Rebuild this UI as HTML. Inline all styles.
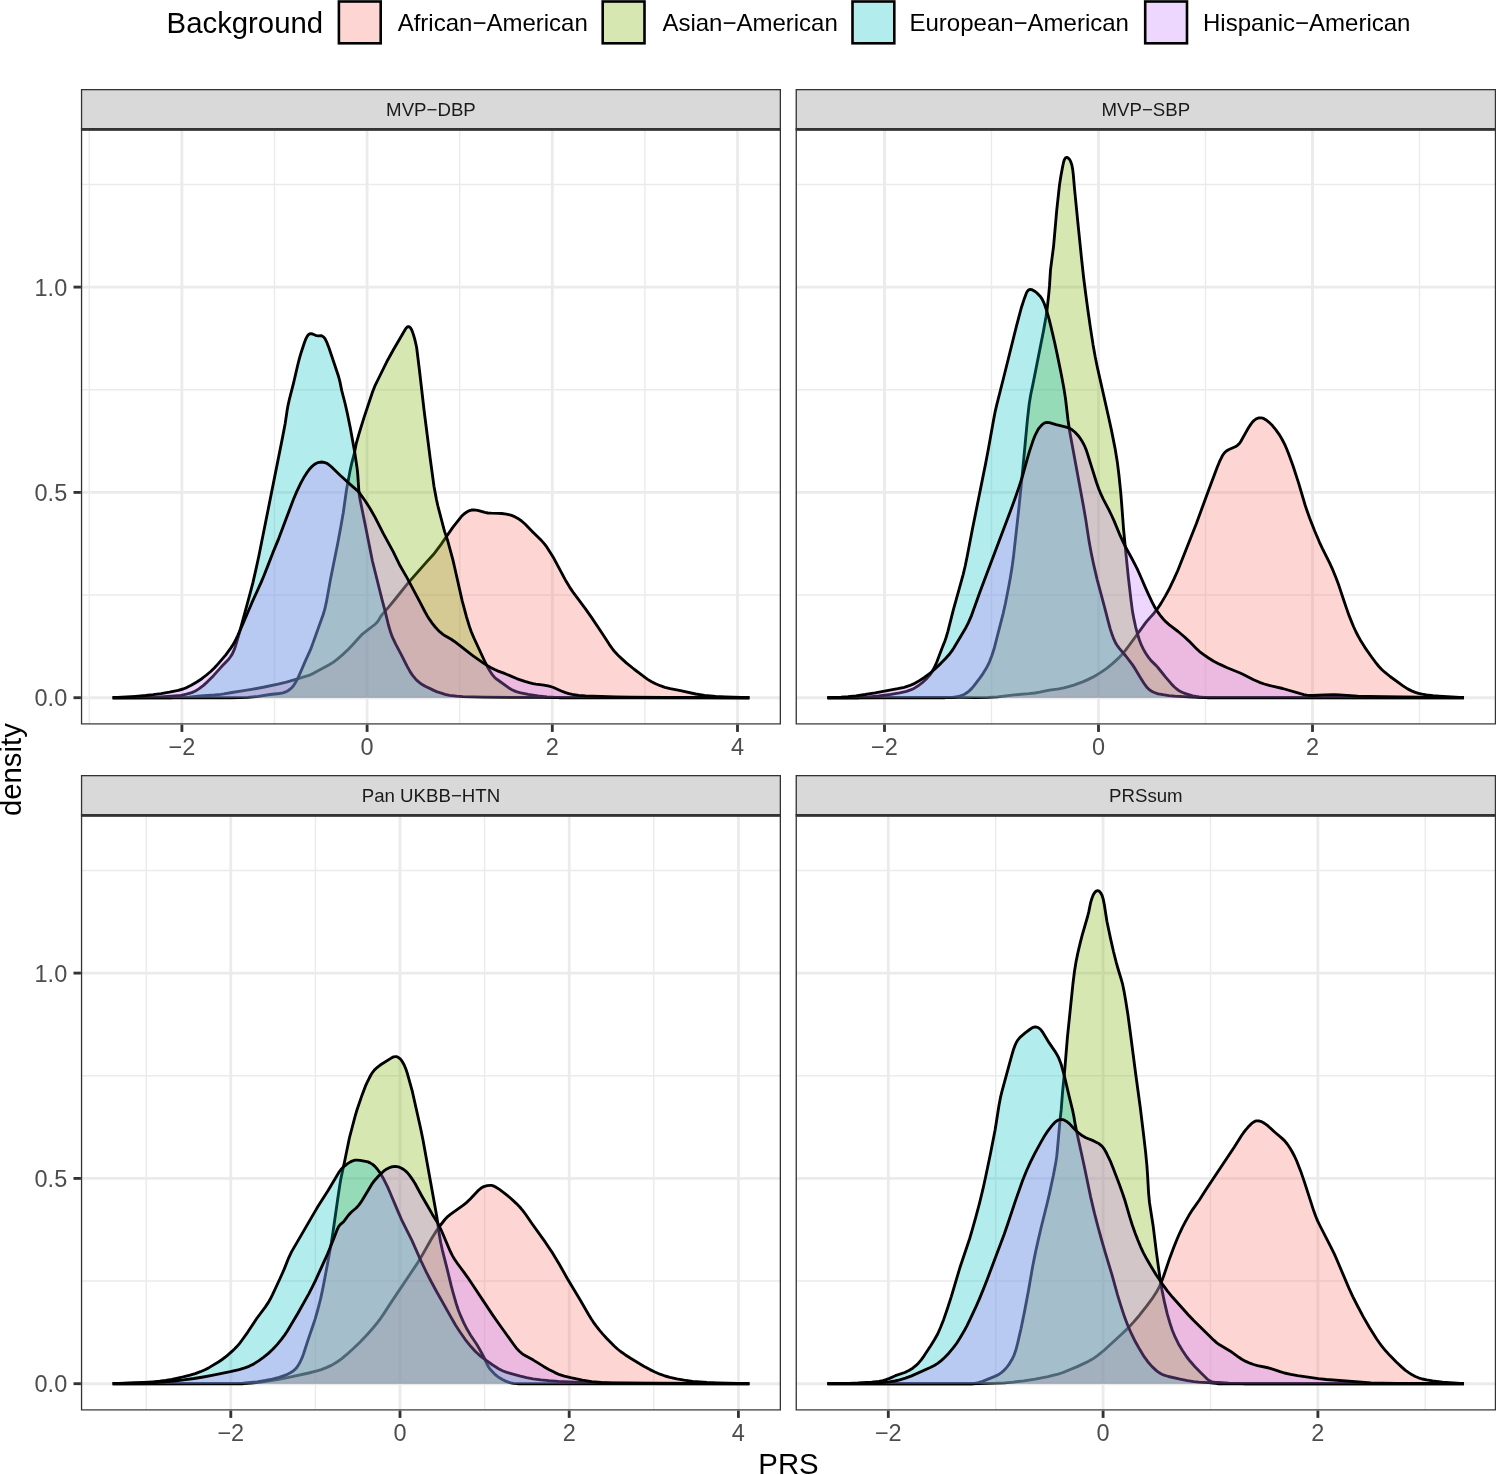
<!DOCTYPE html><html><head><meta charset="utf-8"><style>html,body{margin:0;padding:0;background:#fff;overflow:hidden}svg{display:block;will-change:transform}</style></head><body><svg width="1496" height="1475" viewBox="0 0 1496 1475" font-family="&quot;Liberation Sans&quot;, sans-serif">
<rect x="0" y="0" width="1496" height="1475" fill="#fff"/>
<defs>
<clipPath id="cpTL"><rect x="80.9" y="129.3" width="700.10" height="595.30"/></clipPath>
<clipPath id="csTL"><rect x="80.9" y="89.00" width="700.10" height="40.3"/></clipPath>
<clipPath id="cpTR"><rect x="795.6" y="129.3" width="700.50" height="595.30"/></clipPath>
<clipPath id="csTR"><rect x="795.6" y="89.00" width="700.50" height="40.3"/></clipPath>
<clipPath id="cpBL"><rect x="80.9" y="815.3" width="700.10" height="595.30"/></clipPath>
<clipPath id="csBL"><rect x="80.9" y="775.00" width="700.10" height="40.3"/></clipPath>
<clipPath id="cpBR"><rect x="795.6" y="815.3" width="700.50" height="595.30"/></clipPath>
<clipPath id="csBR"><rect x="795.6" y="775.00" width="700.50" height="40.3"/></clipPath>
</defs>
<text x="166.6" y="32.5" font-size="29.33" fill="#000">Background</text>
<rect x="338.9" y="1.5" width="41.8" height="41.8" fill="#F8766D" fill-opacity="0.3" stroke="#000" stroke-width="2.6"/>
<text x="397.7" y="30.9" font-size="24" fill="#000">African−American</text>
<rect x="602.7" y="1.5" width="41.8" height="41.8" fill="#7CAE00" fill-opacity="0.3" stroke="#000" stroke-width="2.6"/>
<text x="662.4" y="30.9" font-size="24" fill="#000">Asian−American</text>
<rect x="852.5" y="1.5" width="41.8" height="41.8" fill="#00BFC4" fill-opacity="0.3" stroke="#000" stroke-width="2.6"/>
<text x="909.5" y="30.9" font-size="24" fill="#000">European−American</text>
<rect x="1145.2" y="1.5" width="41.8" height="41.8" fill="#C77CFF" fill-opacity="0.3" stroke="#000" stroke-width="2.6"/>
<text x="1203.0" y="30.9" font-size="24" fill="#000">Hispanic−American</text>
<g clip-path="url(#cpTL)">
<rect x="80.9" y="129.3" width="700.10" height="595.30" fill="#fff"/>
<line x1="80.9" x2="781.0" y1="595.05" y2="595.05" stroke="#EBEBEB" stroke-width="1.425"/>
<line x1="80.9" x2="781.0" y1="389.75" y2="389.75" stroke="#EBEBEB" stroke-width="1.425"/>
<line x1="80.9" x2="781.0" y1="184.45" y2="184.45" stroke="#EBEBEB" stroke-width="1.425"/>
<line x1="89.30" x2="89.30" y1="129.3" y2="724.6" stroke="#EBEBEB" stroke-width="1.425"/>
<line x1="274.50" x2="274.50" y1="129.3" y2="724.6" stroke="#EBEBEB" stroke-width="1.425"/>
<line x1="459.70" x2="459.70" y1="129.3" y2="724.6" stroke="#EBEBEB" stroke-width="1.425"/>
<line x1="644.90" x2="644.90" y1="129.3" y2="724.6" stroke="#EBEBEB" stroke-width="1.425"/>
<line x1="80.9" x2="781.0" y1="697.70" y2="697.70" stroke="#EBEBEB" stroke-width="2.85"/>
<line x1="80.9" x2="781.0" y1="492.40" y2="492.40" stroke="#EBEBEB" stroke-width="2.85"/>
<line x1="80.9" x2="781.0" y1="287.10" y2="287.10" stroke="#EBEBEB" stroke-width="2.85"/>
<line x1="181.90" x2="181.90" y1="129.3" y2="724.6" stroke="#EBEBEB" stroke-width="2.85"/>
<line x1="367.10" x2="367.10" y1="129.3" y2="724.6" stroke="#EBEBEB" stroke-width="2.85"/>
<line x1="552.30" x2="552.30" y1="129.3" y2="724.6" stroke="#EBEBEB" stroke-width="2.85"/>
<line x1="737.50" x2="737.50" y1="129.3" y2="724.6" stroke="#EBEBEB" stroke-width="2.85"/>
<path d="M112.7,697.7L172.2,697.7L180.2,697.5L188.7,697.1L200.1,696.0L214.6,695.0L220.6,694.4L224.0,693.9L231.9,692.5L243.8,690.7L253.1,689.1L264.4,687.0L278.1,684.1L286.4,682.1L295.0,679.6L308.0,675.7L310.3,674.8L313.0,673.6L329.2,664.7L333.5,662.1L337.1,659.4L342.4,654.9L348.6,649.0L352.4,645.0L359.4,637.2L361.8,634.7L364.9,632.2L374.8,624.5L376.6,622.8L378.1,620.9L380.6,616.7L382.1,614.6L388.6,607.1L395.3,599.0L408.4,582.6L426.9,561.6L432.7,555.3L434.9,552.6L441.5,543.8L452.8,527.4L460.9,517.1L462.5,515.3L464.0,514.0L465.6,512.8L467.3,511.7L469.0,510.8L470.4,510.3L471.9,510.0L473.8,509.9L475.8,510.1L477.7,510.4L484.9,512.4L487.9,513.0L491.3,513.2L498.3,513.3L501.8,513.5L506.3,514.1L509.7,514.8L511.6,515.4L513.9,516.3L517.9,518.4L521.6,521.0L525.3,524.3L533.0,532.2L541.5,540.6L544.2,543.6L546.9,547.2L550.1,552.2L554.0,558.6L566.0,581.1L569.6,587.1L573.0,592.1L585.5,608.9L591.3,617.1L602.1,633.3L609.4,644.6L612.9,649.5L615.5,652.6L618.3,655.5L621.9,658.9L626.3,662.9L634.5,669.5L643.3,676.1L647.3,679.1L651.6,681.7L655.6,683.8L660.2,685.7L664.9,687.3L670.2,688.7L680.5,690.7L695.7,694.0L704.6,695.3L715.5,696.3L725.5,696.8L749.3,697.7L749.3,697.7L112.7,697.7Z" fill="#F8766D" fill-opacity="0.3" stroke="none"/>
<path d="M112.7,697.7L172.2,697.7L180.2,697.5L188.7,697.1L200.1,696.0L214.6,695.0L220.6,694.4L224.0,693.9L231.9,692.5L243.8,690.7L253.1,689.1L264.4,687.0L278.1,684.1L286.4,682.1L295.0,679.6L308.0,675.7L310.3,674.8L313.0,673.6L329.2,664.7L333.5,662.1L337.1,659.4L342.4,654.9L348.6,649.0L352.4,645.0L359.4,637.2L361.8,634.7L364.9,632.2L374.8,624.5L376.6,622.8L378.1,620.9L380.6,616.7L382.1,614.6L388.6,607.1L395.3,599.0L408.4,582.6L426.9,561.6L432.7,555.3L434.9,552.6L441.5,543.8L452.8,527.4L460.9,517.1L462.5,515.3L464.0,514.0L465.6,512.8L467.3,511.7L469.0,510.8L470.4,510.3L471.9,510.0L473.8,509.9L475.8,510.1L477.7,510.4L484.9,512.4L487.9,513.0L491.3,513.2L498.3,513.3L501.8,513.5L506.3,514.1L509.7,514.8L511.6,515.4L513.9,516.3L517.9,518.4L521.6,521.0L525.3,524.3L533.0,532.2L541.5,540.6L544.2,543.6L546.9,547.2L550.1,552.2L554.0,558.6L566.0,581.1L569.6,587.1L573.0,592.1L585.5,608.9L591.3,617.1L602.1,633.3L609.4,644.6L612.9,649.5L615.5,652.6L618.3,655.5L621.9,658.9L626.3,662.9L634.5,669.5L643.3,676.1L647.3,679.1L651.6,681.7L655.6,683.8L660.2,685.7L664.9,687.3L670.2,688.7L680.5,690.7L695.7,694.0L704.6,695.3L715.5,696.3L725.5,696.8L749.3,697.7" fill="none" stroke="#000" stroke-width="2.85" stroke-linejoin="round" stroke-linecap="butt"/>
<path d="M112.7,697.7L230.2,697.7L240.2,697.6L247.7,697.3L253.2,696.8L258.1,696.3L270.0,694.5L279.4,693.5L282.9,692.8L285.7,691.9L288.3,690.5L290.7,688.7L293.1,686.2L295.3,682.9L297.9,678.1L301.0,671.2L305.5,660.6L310.3,650.2L311.9,646.0L323.2,614.5L324.8,609.2L326.5,601.4L330.6,578.8L337.8,543.0L341.0,525.8L343.3,512.5L346.5,489.7L350.3,469.6L351.5,464.2L354.5,452.6L356.1,444.2L357.0,440.8L359.2,433.2L363.9,417.9L372.6,391.8L374.8,386.2L378.3,379.0L387.6,360.2L393.4,349.7L405.5,329.0L406.3,327.9L407.2,327.0L407.8,326.7L408.5,326.6L409.5,326.9L410.4,327.8L411.4,329.3L412.2,331.1L413.5,334.9L415.0,340.2L416.0,344.5L416.7,348.0L419.4,369.8L424.1,410.5L430.1,457.7L434.0,486.4L436.5,499.7L437.9,506.0L443.8,528.7L444.8,532.1L447.4,539.6L452.9,559.9L454.6,567.2L462.2,600.9L466.5,616.8L469.4,626.4L471.2,631.5L473.7,637.5L485.5,663.0L487.8,667.4L490.4,671.7L492.3,674.6L494.2,676.9L495.6,678.3L497.2,679.5L508.5,687.7L511.9,689.7L515.6,691.4L517.9,692.2L520.8,692.9L528.2,694.4L538.0,696.0L547.0,697.0L559.0,697.7L749.3,697.7L749.3,697.7L112.7,697.7Z" fill="#7CAE00" fill-opacity="0.3" stroke="none"/>
<path d="M112.7,697.7L230.2,697.7L240.2,697.6L247.7,697.3L253.2,696.8L258.1,696.3L270.0,694.5L279.4,693.5L282.9,692.8L285.7,691.9L288.3,690.5L290.7,688.7L293.1,686.2L295.3,682.9L297.9,678.1L301.0,671.2L305.5,660.6L310.3,650.2L311.9,646.0L323.2,614.5L324.8,609.2L326.5,601.4L330.6,578.8L337.8,543.0L341.0,525.8L343.3,512.5L346.5,489.7L350.3,469.6L351.5,464.2L354.5,452.6L356.1,444.2L357.0,440.8L359.2,433.2L363.9,417.9L372.6,391.8L374.8,386.2L378.3,379.0L387.6,360.2L393.4,349.7L405.5,329.0L406.3,327.9L407.2,327.0L407.8,326.7L408.5,326.6L409.5,326.9L410.4,327.8L411.4,329.3L412.2,331.1L413.5,334.9L415.0,340.2L416.0,344.5L416.7,348.0L419.4,369.8L424.1,410.5L430.1,457.7L434.0,486.4L436.5,499.7L437.9,506.0L443.8,528.7L444.8,532.1L447.4,539.6L452.9,559.9L454.6,567.2L462.2,600.9L466.5,616.8L469.4,626.4L471.2,631.5L473.7,637.5L485.5,663.0L487.8,667.4L490.4,671.7L492.3,674.6L494.2,676.9L495.6,678.3L497.2,679.5L508.5,687.7L511.9,689.7L515.6,691.4L517.9,692.2L520.8,692.9L528.2,694.4L538.0,696.0L547.0,697.0L559.0,697.7L749.3,697.7" fill="none" stroke="#000" stroke-width="2.85" stroke-linejoin="round" stroke-linecap="butt"/>
<path d="M112.7,697.7L147.2,697.6L160.7,696.9L174.6,695.9L181.1,695.3L186.5,694.2L191.8,692.6L195.4,691.0L198.8,688.9L203.2,685.6L207.6,681.6L213.3,675.9L221.6,666.6L228.2,659.8L230.3,657.0L232.2,654.1L233.7,650.9L235.3,646.7L238.6,635.7L249.5,595.7L252.8,583.1L255.6,570.9L258.8,556.3L282.6,437.1L285.2,423.4L287.2,410.0L288.1,405.1L289.5,398.8L293.6,382.8L297.8,364.8L299.3,358.9L301.1,352.7L304.2,343.2L305.6,339.4L306.9,336.8L308.2,334.9L308.9,334.3L309.6,333.9L310.8,333.6L312.5,334.0L315.5,335.3L316.8,335.7L318.1,335.8L320.8,335.7L322.0,336.0L323.5,336.9L325.0,338.7L326.6,341.8L329.1,348.3L338.5,376.3L339.8,381.1L341.8,390.9L345.1,403.5L347.3,413.3L350.4,428.4L354.6,451.5L357.2,468.9L357.7,473.8L358.9,491.3L359.4,495.8L360.2,500.2L364.9,523.2L372.4,561.0L382.1,599.8L385.3,611.9L388.3,624.5L390.7,632.6L391.9,635.9L393.1,638.7L395.7,644.1L400.6,653.4L406.9,665.9L410.1,671.6L412.8,675.7L415.7,679.2L418.6,681.9L421.8,684.3L425.2,686.3L433.8,690.4L436.5,691.6L439.8,692.7L445.1,694.3L449.5,695.3L456.9,696.2L462.9,696.7L483.9,697.2L518.4,697.4L749.3,697.7L749.3,697.7L112.7,697.7Z" fill="#00BFC4" fill-opacity="0.3" stroke="none"/>
<path d="M112.7,697.7L147.2,697.6L160.7,696.9L174.6,695.9L181.1,695.3L186.5,694.2L191.8,692.6L195.4,691.0L198.8,688.9L203.2,685.6L207.6,681.6L213.3,675.9L221.6,666.6L228.2,659.8L230.3,657.0L232.2,654.1L233.7,650.9L235.3,646.7L238.6,635.7L249.5,595.7L252.8,583.1L255.6,570.9L258.8,556.3L282.6,437.1L285.2,423.4L287.2,410.0L288.1,405.1L289.5,398.8L293.6,382.8L297.8,364.8L299.3,358.9L301.1,352.7L304.2,343.2L305.6,339.4L306.9,336.8L308.2,334.9L308.9,334.3L309.6,333.9L310.8,333.6L312.5,334.0L315.5,335.3L316.8,335.7L318.1,335.8L320.8,335.7L322.0,336.0L323.5,336.9L325.0,338.7L326.6,341.8L329.1,348.3L338.5,376.3L339.8,381.1L341.8,390.9L345.1,403.5L347.3,413.3L350.4,428.4L354.6,451.5L357.2,468.9L357.7,473.8L358.9,491.3L359.4,495.8L360.2,500.2L364.9,523.2L372.4,561.0L382.1,599.8L385.3,611.9L388.3,624.5L390.7,632.6L391.9,635.9L393.1,638.7L395.7,644.1L400.6,653.4L406.9,665.9L410.1,671.6L412.8,675.7L415.7,679.2L418.6,681.9L421.8,684.3L425.2,686.3L433.8,690.4L436.5,691.6L439.8,692.7L445.1,694.3L449.5,695.3L456.9,696.2L462.9,696.7L483.9,697.2L518.4,697.4L749.3,697.7" fill="none" stroke="#000" stroke-width="2.85" stroke-linejoin="round" stroke-linecap="butt"/>
<path d="M112.7,697.7L135.7,696.3L145.6,695.5L153.1,694.7L161.0,693.6L169.4,692.1L178.2,690.3L183.0,689.0L186.7,687.6L191.2,685.3L196.8,682.0L201.8,678.7L206.5,675.0L210.7,671.5L214.3,668.0L218.3,663.6L225.8,654.8L230.0,649.2L232.2,645.9L234.3,642.5L235.9,639.4L237.6,635.8L243.3,623.0L251.7,603.2L260.8,583.1L263.5,576.7L267.4,566.9L272.8,552.9L278.9,538.1L293.3,499.7L296.6,491.9L300.9,482.9L303.8,477.6L306.4,473.4L309.0,469.7L311.3,467.1L313.9,464.8L316.4,463.3L317.8,462.7L319.2,462.3L321.6,462.0L324.0,462.3L326.3,463.1L328.4,464.3L331.1,466.5L340.1,475.3L351.6,485.6L358.0,491.1L359.6,493.0L365.6,501.5L370.2,508.7L375.1,517.4L383.5,533.9L393.3,551.9L400.1,565.8L407.1,577.9L420.5,603.1L425.1,612.0L427.3,615.9L429.7,619.7L432.3,623.3L434.8,626.5L438.5,630.6L440.3,632.2L442.6,634.1L445.5,636.1L451.2,639.3L454.1,641.2L460.9,646.3L469.5,653.1L473.1,655.8L483.8,663.3L487.1,665.4L490.6,667.4L494.6,669.5L498.2,671.1L505.2,673.7L517.2,678.8L524.8,681.4L529.1,682.7L533.0,683.6L535.9,684.1L543.9,685.1L549.2,686.2L553.5,687.5L561.3,691.0L565.5,692.6L568.8,693.6L572.2,694.4L578.6,695.4L585.6,695.9L615.6,696.8L631.1,697.1L664.1,697.4L749.3,697.7L749.3,697.7L112.7,697.7Z" fill="#C77CFF" fill-opacity="0.3" stroke="none"/>
<path d="M112.7,697.7L135.7,696.3L145.6,695.5L153.1,694.7L161.0,693.6L169.4,692.1L178.2,690.3L183.0,689.0L186.7,687.6L191.2,685.3L196.8,682.0L201.8,678.7L206.5,675.0L210.7,671.5L214.3,668.0L218.3,663.6L225.8,654.8L230.0,649.2L232.2,645.9L234.3,642.5L235.9,639.4L237.6,635.8L243.3,623.0L251.7,603.2L260.8,583.1L263.5,576.7L267.4,566.9L272.8,552.9L278.9,538.1L293.3,499.7L296.6,491.9L300.9,482.9L303.8,477.6L306.4,473.4L309.0,469.7L311.3,467.1L313.9,464.8L316.4,463.3L317.8,462.7L319.2,462.3L321.6,462.0L324.0,462.3L326.3,463.1L328.4,464.3L331.1,466.5L340.1,475.3L351.6,485.6L358.0,491.1L359.6,493.0L365.6,501.5L370.2,508.7L375.1,517.4L383.5,533.9L393.3,551.9L400.1,565.8L407.1,577.9L420.5,603.1L425.1,612.0L427.3,615.9L429.7,619.7L432.3,623.3L434.8,626.5L438.5,630.6L440.3,632.2L442.6,634.1L445.5,636.1L451.2,639.3L454.1,641.2L460.9,646.3L469.5,653.1L473.1,655.8L483.8,663.3L487.1,665.4L490.6,667.4L494.6,669.5L498.2,671.1L505.2,673.7L517.2,678.8L524.8,681.4L529.1,682.7L533.0,683.6L535.9,684.1L543.9,685.1L549.2,686.2L553.5,687.5L561.3,691.0L565.5,692.6L568.8,693.6L572.2,694.4L578.6,695.4L585.6,695.9L615.6,696.8L631.1,697.1L664.1,697.4L749.3,697.7" fill="none" stroke="#000" stroke-width="2.85" stroke-linejoin="round" stroke-linecap="butt"/>
<rect x="80.9" y="129.3" width="700.10" height="595.30" fill="none" stroke="#333" stroke-width="2.6"/>
</g>
<g clip-path="url(#csTL)"><rect x="80.9" y="89.00" width="700.10" height="40.3" fill="#D9D9D9" stroke="#333" stroke-width="2.6"/></g>
<rect x="80.9" y="128.00" width="700.10" height="2.6" fill="#333"/>
<text x="430.95" y="115.80" font-size="18.67" fill="#1A1A1A" text-anchor="middle">MVP−DBP</text>
<line x1="181.90" x2="181.90" y1="724.6" y2="731.90" stroke="#333" stroke-width="2.85"/>
<text x="181.90" y="754.80" font-size="23.47" fill="#4D4D4D" text-anchor="middle">−2</text>
<line x1="367.10" x2="367.10" y1="724.6" y2="731.90" stroke="#333" stroke-width="2.85"/>
<text x="367.10" y="754.80" font-size="23.47" fill="#4D4D4D" text-anchor="middle">0</text>
<line x1="552.30" x2="552.30" y1="724.6" y2="731.90" stroke="#333" stroke-width="2.85"/>
<text x="552.30" y="754.80" font-size="23.47" fill="#4D4D4D" text-anchor="middle">2</text>
<line x1="737.50" x2="737.50" y1="724.6" y2="731.90" stroke="#333" stroke-width="2.85"/>
<text x="737.50" y="754.80" font-size="23.47" fill="#4D4D4D" text-anchor="middle">4</text>
<line x1="73.50" x2="80.9" y1="697.70" y2="697.70" stroke="#333" stroke-width="2.85"/>
<text x="67.2" y="706.10" font-size="23.47" fill="#4D4D4D" text-anchor="end">0.0</text>
<line x1="73.50" x2="80.9" y1="492.40" y2="492.40" stroke="#333" stroke-width="2.85"/>
<text x="67.2" y="500.80" font-size="23.47" fill="#4D4D4D" text-anchor="end">0.5</text>
<line x1="73.50" x2="80.9" y1="287.10" y2="287.10" stroke="#333" stroke-width="2.85"/>
<text x="67.2" y="295.50" font-size="23.47" fill="#4D4D4D" text-anchor="end">1.0</text>
<g clip-path="url(#cpTR)">
<rect x="795.6" y="129.3" width="700.50" height="595.30" fill="#fff"/>
<line x1="795.6" x2="1496.1" y1="595.05" y2="595.05" stroke="#EBEBEB" stroke-width="1.425"/>
<line x1="795.6" x2="1496.1" y1="389.75" y2="389.75" stroke="#EBEBEB" stroke-width="1.425"/>
<line x1="795.6" x2="1496.1" y1="184.45" y2="184.45" stroke="#EBEBEB" stroke-width="1.425"/>
<line x1="991.50" x2="991.50" y1="129.3" y2="724.6" stroke="#EBEBEB" stroke-width="1.425"/>
<line x1="1205.50" x2="1205.50" y1="129.3" y2="724.6" stroke="#EBEBEB" stroke-width="1.425"/>
<line x1="1419.50" x2="1419.50" y1="129.3" y2="724.6" stroke="#EBEBEB" stroke-width="1.425"/>
<line x1="795.6" x2="1496.1" y1="697.70" y2="697.70" stroke="#EBEBEB" stroke-width="2.85"/>
<line x1="795.6" x2="1496.1" y1="492.40" y2="492.40" stroke="#EBEBEB" stroke-width="2.85"/>
<line x1="795.6" x2="1496.1" y1="287.10" y2="287.10" stroke="#EBEBEB" stroke-width="2.85"/>
<line x1="884.50" x2="884.50" y1="129.3" y2="724.6" stroke="#EBEBEB" stroke-width="2.85"/>
<line x1="1098.50" x2="1098.50" y1="129.3" y2="724.6" stroke="#EBEBEB" stroke-width="2.85"/>
<line x1="1312.50" x2="1312.50" y1="129.3" y2="724.6" stroke="#EBEBEB" stroke-width="2.85"/>
<path d="M827.5,697.7L943.5,697.3L960.5,697.4L975.5,697.7L988.0,697.4L997.5,696.8L1014.4,694.9L1028.8,693.7L1034.8,693.0L1039.7,692.2L1049.5,690.1L1058.9,688.9L1063.8,687.9L1068.6,686.7L1073.9,685.1L1078.6,683.4L1083.3,681.6L1087.8,679.6L1092.3,677.4L1096.7,674.9L1100.5,672.6L1106.7,668.3L1112.5,663.6L1117.7,658.9L1122.2,654.2L1125.4,650.4L1128.7,646.0L1146.1,622.2L1148.7,619.1L1154.0,613.2L1156.2,610.4L1158.5,607.2L1161.0,603.4L1165.3,596.1L1169.6,588.2L1173.9,579.2L1177.8,570.5L1196.4,523.5L1208.4,490.7L1217.2,467.3L1219.5,461.7L1222.1,456.3L1223.1,454.6L1224.3,453.0L1225.3,452.0L1226.4,451.0L1229.0,449.5L1235.8,446.5L1237.4,445.4L1238.5,444.4L1239.8,443.0L1240.9,441.3L1245.3,433.4L1248.5,427.8L1250.4,424.9L1252.1,422.5L1254.2,420.3L1256.2,418.9L1258.4,418.0L1260.3,417.8L1261.2,417.8L1262.6,418.2L1264.0,418.7L1265.7,419.7L1268.8,422.1L1272.4,425.6L1275.9,429.9L1279.1,434.3L1281.9,439.0L1284.7,444.4L1286.5,448.5L1288.7,454.1L1293.0,465.8L1298.7,483.4L1305.1,505.0L1307.1,511.1L1309.7,518.2L1314.8,531.2L1319.5,542.3L1322.7,549.1L1329.6,562.9L1332.9,570.2L1335.6,576.7L1338.9,585.6L1343.6,599.8L1346.0,606.9L1349.2,615.9L1351.6,621.9L1353.5,626.5L1355.8,631.5L1358.1,636.0L1360.3,639.9L1365.0,647.6L1371.6,657.0L1375.8,662.6L1378.9,666.5L1382.0,669.7L1385.4,672.7L1390.1,676.5L1403.0,685.9L1407.6,688.9L1412.1,691.1L1415.3,692.4L1418.6,693.4L1422.1,694.2L1426.5,694.9L1433.0,695.6L1438.9,696.1L1464.0,697.7L1464.0,697.7L827.5,697.7Z" fill="#F8766D" fill-opacity="0.3" stroke="none"/>
<path d="M827.5,697.7L943.5,697.3L960.5,697.4L975.5,697.7L988.0,697.4L997.5,696.8L1014.4,694.9L1028.8,693.7L1034.8,693.0L1039.7,692.2L1049.5,690.1L1058.9,688.9L1063.8,687.9L1068.6,686.7L1073.9,685.1L1078.6,683.4L1083.3,681.6L1087.8,679.6L1092.3,677.4L1096.7,674.9L1100.5,672.6L1106.7,668.3L1112.5,663.6L1117.7,658.9L1122.2,654.2L1125.4,650.4L1128.7,646.0L1146.1,622.2L1148.7,619.1L1154.0,613.2L1156.2,610.4L1158.5,607.2L1161.0,603.4L1165.3,596.1L1169.6,588.2L1173.9,579.2L1177.8,570.5L1196.4,523.5L1208.4,490.7L1217.2,467.3L1219.5,461.7L1222.1,456.3L1223.1,454.6L1224.3,453.0L1225.3,452.0L1226.4,451.0L1229.0,449.5L1235.8,446.5L1237.4,445.4L1238.5,444.4L1239.8,443.0L1240.9,441.3L1245.3,433.4L1248.5,427.8L1250.4,424.9L1252.1,422.5L1254.2,420.3L1256.2,418.9L1258.4,418.0L1260.3,417.8L1261.2,417.8L1262.6,418.2L1264.0,418.7L1265.7,419.7L1268.8,422.1L1272.4,425.6L1275.9,429.9L1279.1,434.3L1281.9,439.0L1284.7,444.4L1286.5,448.5L1288.7,454.1L1293.0,465.8L1298.7,483.4L1305.1,505.0L1307.1,511.1L1309.7,518.2L1314.8,531.2L1319.5,542.3L1322.7,549.1L1329.6,562.9L1332.9,570.2L1335.6,576.7L1338.9,585.6L1343.6,599.8L1346.0,606.9L1349.2,615.9L1351.6,621.9L1353.5,626.5L1355.8,631.5L1358.1,636.0L1360.3,639.9L1365.0,647.6L1371.6,657.0L1375.8,662.6L1378.9,666.5L1382.0,669.7L1385.4,672.7L1390.1,676.5L1403.0,685.9L1407.6,688.9L1412.1,691.1L1415.3,692.4L1418.6,693.4L1422.1,694.2L1426.5,694.9L1433.0,695.6L1438.9,696.1L1464.0,697.7" fill="none" stroke="#000" stroke-width="2.85" stroke-linejoin="round" stroke-linecap="butt"/>
<path d="M827.5,697.7L945.0,697.7L952.0,697.4L955.5,697.0L958.4,696.4L960.3,695.9L962.2,695.3L964.0,694.4L965.7,693.5L969.0,691.1L971.8,688.4L973.7,686.1L979.8,678.1L983.0,673.6L986.4,668.1L989.3,662.3L991.8,655.8L994.4,647.7L1003.2,613.3L1005.3,604.0L1008.4,588.3L1010.3,578.0L1012.0,567.6L1013.6,555.7L1018.9,508.0L1022.6,471.2L1027.4,419.9L1029.2,404.0L1030.7,394.7L1033.2,382.9L1043.5,330.9L1046.1,316.2L1047.1,309.2L1048.8,293.8L1049.5,285.9L1050.5,269.9L1053.6,246.1L1056.7,210.7L1059.5,184.9L1060.9,176.0L1062.7,166.2L1063.7,161.8L1064.3,159.9L1065.1,158.4L1065.9,157.6L1066.9,157.4L1067.9,157.8L1068.8,158.6L1069.7,159.7L1070.6,161.4L1071.8,164.7L1072.7,169.6L1073.3,174.6L1074.4,187.5L1078.3,226.8L1081.6,259.1L1083.6,277.5L1085.7,293.9L1087.9,310.3L1090.4,327.6L1093.0,344.4L1095.2,356.7L1097.4,367.5L1108.4,416.2L1111.5,430.4L1115.1,448.6L1117.3,461.9L1118.9,474.8L1120.7,492.2L1121.6,503.1L1123.6,529.6L1126.2,556.4L1128.3,576.8L1131.0,600.2L1132.5,611.6L1134.0,619.4L1135.5,626.3L1137.5,634.0L1139.5,640.2L1141.3,644.9L1143.2,648.9L1145.7,653.3L1148.5,657.4L1151.3,660.9L1156.0,665.4L1158.3,668.0L1165.8,677.4L1171.0,683.4L1174.1,686.7L1176.7,689.0L1178.3,690.2L1180.5,691.4L1182.7,692.5L1185.5,693.6L1188.8,694.7L1192.7,695.8L1196.1,696.5L1199.0,697.0L1207.0,697.7L1464.0,697.7L1464.0,697.7L827.5,697.7Z" fill="#7CAE00" fill-opacity="0.3" stroke="none"/>
<path d="M827.5,697.7L945.0,697.7L952.0,697.4L955.5,697.0L958.4,696.4L960.3,695.9L962.2,695.3L964.0,694.4L965.7,693.5L969.0,691.1L971.8,688.4L973.7,686.1L979.8,678.1L983.0,673.6L986.4,668.1L989.3,662.3L991.8,655.8L994.4,647.7L1003.2,613.3L1005.3,604.0L1008.4,588.3L1010.3,578.0L1012.0,567.6L1013.6,555.7L1018.9,508.0L1022.6,471.2L1027.4,419.9L1029.2,404.0L1030.7,394.7L1033.2,382.9L1043.5,330.9L1046.1,316.2L1047.1,309.2L1048.8,293.8L1049.5,285.9L1050.5,269.9L1053.6,246.1L1056.7,210.7L1059.5,184.9L1060.9,176.0L1062.7,166.2L1063.7,161.8L1064.3,159.9L1065.1,158.4L1065.9,157.6L1066.9,157.4L1067.9,157.8L1068.8,158.6L1069.7,159.7L1070.6,161.4L1071.8,164.7L1072.7,169.6L1073.3,174.6L1074.4,187.5L1078.3,226.8L1081.6,259.1L1083.6,277.5L1085.7,293.9L1087.9,310.3L1090.4,327.6L1093.0,344.4L1095.2,356.7L1097.4,367.5L1108.4,416.2L1111.5,430.4L1115.1,448.6L1117.3,461.9L1118.9,474.8L1120.7,492.2L1121.6,503.1L1123.6,529.6L1126.2,556.4L1128.3,576.8L1131.0,600.2L1132.5,611.6L1134.0,619.4L1135.5,626.3L1137.5,634.0L1139.5,640.2L1141.3,644.9L1143.2,648.9L1145.7,653.3L1148.5,657.4L1151.3,660.9L1156.0,665.4L1158.3,668.0L1165.8,677.4L1171.0,683.4L1174.1,686.7L1176.7,689.0L1178.3,690.2L1180.5,691.4L1182.7,692.5L1185.5,693.6L1188.8,694.7L1192.7,695.8L1196.1,696.5L1199.0,697.0L1207.0,697.7L1464.0,697.7" fill="none" stroke="#000" stroke-width="2.85" stroke-linejoin="round" stroke-linecap="butt"/>
<path d="M827.5,697.7L859.0,697.7L867.5,697.2L878.9,696.0L890.8,694.4L899.7,692.9L906.5,691.3L911.2,689.7L914.8,687.9L918.6,685.5L923.3,681.8L926.9,678.4L929.6,675.4L932.1,671.7L934.5,667.3L936.9,661.8L941.8,648.7L944.8,641.3L946.1,637.5L947.9,631.3L953.2,610.4L960.3,584.9L963.2,574.3L965.2,566.0L967.0,557.2L972.2,530.2L985.8,462.6L988.6,447.8L993.7,419.3L995.1,411.9L996.8,404.6L1003.8,377.0L1016.7,325.1L1021.5,307.2L1023.8,300.1L1025.7,294.9L1026.6,292.6L1027.3,291.4L1028.2,290.3L1029.2,289.7L1030.4,289.4L1031.7,289.6L1033.0,290.2L1034.6,291.2L1036.6,292.7L1038.4,294.4L1040.1,296.2L1041.3,297.8L1042.6,300.0L1044.4,304.0L1046.2,309.2L1048.9,318.4L1051.3,328.1L1054.7,342.7L1057.3,354.9L1061.4,375.0L1063.7,387.3L1065.5,398.6L1068.0,420.0L1069.6,430.9L1083.6,507.1L1085.5,517.9L1089.2,542.1L1091.4,553.9L1093.9,565.7L1097.1,579.3L1104.6,607.3L1108.6,622.8L1110.3,629.1L1111.8,633.8L1113.4,638.1L1115.0,641.7L1116.7,644.7L1119.3,648.4L1125.8,656.0L1132.2,664.4L1135.2,668.9L1140.6,678.0L1144.1,683.5L1146.4,686.7L1148.4,688.9L1149.6,689.8L1151.2,691.0L1154.3,692.5L1158.1,693.8L1163.0,694.7L1168.9,695.6L1174.9,696.1L1192.8,697.1L1200.8,697.4L1216.3,697.7L1464.0,697.7L1464.0,697.7L827.5,697.7Z" fill="#00BFC4" fill-opacity="0.3" stroke="none"/>
<path d="M827.5,697.7L859.0,697.7L867.5,697.2L878.9,696.0L890.8,694.4L899.7,692.9L906.5,691.3L911.2,689.7L914.8,687.9L918.6,685.5L923.3,681.8L926.9,678.4L929.6,675.4L932.1,671.7L934.5,667.3L936.9,661.8L941.8,648.7L944.8,641.3L946.1,637.5L947.9,631.3L953.2,610.4L960.3,584.9L963.2,574.3L965.2,566.0L967.0,557.2L972.2,530.2L985.8,462.6L988.6,447.8L993.7,419.3L995.1,411.9L996.8,404.6L1003.8,377.0L1016.7,325.1L1021.5,307.2L1023.8,300.1L1025.7,294.9L1026.6,292.6L1027.3,291.4L1028.2,290.3L1029.2,289.7L1030.4,289.4L1031.7,289.6L1033.0,290.2L1034.6,291.2L1036.6,292.7L1038.4,294.4L1040.1,296.2L1041.3,297.8L1042.6,300.0L1044.4,304.0L1046.2,309.2L1048.9,318.4L1051.3,328.1L1054.7,342.7L1057.3,354.9L1061.4,375.0L1063.7,387.3L1065.5,398.6L1068.0,420.0L1069.6,430.9L1083.6,507.1L1085.5,517.9L1089.2,542.1L1091.4,553.9L1093.9,565.7L1097.1,579.3L1104.6,607.3L1108.6,622.8L1110.3,629.1L1111.8,633.8L1113.4,638.1L1115.0,641.7L1116.7,644.7L1119.3,648.4L1125.8,656.0L1132.2,664.4L1135.2,668.9L1140.6,678.0L1144.1,683.5L1146.4,686.7L1148.4,688.9L1149.6,689.8L1151.2,691.0L1154.3,692.5L1158.1,693.8L1163.0,694.7L1168.9,695.6L1174.9,696.1L1192.8,697.1L1200.8,697.4L1216.3,697.7L1464.0,697.7" fill="none" stroke="#000" stroke-width="2.85" stroke-linejoin="round" stroke-linecap="butt"/>
<path d="M827.5,697.7L841.0,697.1L848.0,696.6L855.9,695.8L865.3,694.5L875.2,692.9L897.8,688.7L904.2,687.3L909.4,685.7L913.6,683.9L917.9,681.6L924.7,677.2L929.5,673.7L934.4,669.4L940.6,663.6L945.8,658.2L949.8,653.7L951.9,650.9L953.8,648.0L965.1,629.1L968.3,622.9L971.5,615.6L980.1,591.6L1011.1,509.2L1015.2,497.9L1019.1,486.6L1022.5,476.1L1027.7,457.3L1029.4,451.6L1032.7,441.6L1034.8,436.0L1036.1,433.3L1037.5,430.6L1039.1,428.1L1041.0,425.8L1042.4,424.4L1043.9,423.3L1045.6,422.6L1047.0,422.4L1049.4,422.7L1056.1,424.6L1065.3,426.8L1067.2,427.4L1069.1,428.1L1072.1,429.8L1074.8,432.0L1077.6,434.9L1080.3,438.4L1081.9,440.9L1083.6,444.0L1084.9,446.7L1086.2,449.9L1087.8,454.7L1091.2,465.7L1096.6,482.8L1098.6,488.5L1100.5,493.1L1103.0,498.6L1108.8,509.6L1111.4,515.0L1114.3,521.4L1120.2,535.7L1122.7,541.2L1125.4,546.6L1131.6,558.0L1137.1,568.7L1140.2,575.5L1145.3,587.4L1148.8,595.2L1152.2,602.4L1155.1,607.7L1157.7,611.9L1160.4,615.6L1163.2,619.0L1166.0,621.9L1169.4,624.8L1178.1,631.5L1184.6,637.0L1189.0,641.1L1196.0,648.2L1199.3,651.3L1203.3,654.4L1207.8,657.5L1213.7,661.2L1220.0,664.4L1227.2,667.7L1240.2,673.0L1243.8,674.8L1253.6,679.8L1259.5,682.3L1264.3,684.0L1269.1,685.4L1282.7,688.5L1300.4,693.7L1303.8,694.6L1306.8,695.1L1309.3,695.4L1312.2,695.5L1324.2,694.8L1334.2,694.7L1339.7,694.9L1357.7,696.1L1367.7,696.4L1401.2,697.0L1464.0,697.7L1464.0,697.7L827.5,697.7Z" fill="#C77CFF" fill-opacity="0.3" stroke="none"/>
<path d="M827.5,697.7L841.0,697.1L848.0,696.6L855.9,695.8L865.3,694.5L875.2,692.9L897.8,688.7L904.2,687.3L909.4,685.7L913.6,683.9L917.9,681.6L924.7,677.2L929.5,673.7L934.4,669.4L940.6,663.6L945.8,658.2L949.8,653.7L951.9,650.9L953.8,648.0L965.1,629.1L968.3,622.9L971.5,615.6L980.1,591.6L1011.1,509.2L1015.2,497.9L1019.1,486.6L1022.5,476.1L1027.7,457.3L1029.4,451.6L1032.7,441.6L1034.8,436.0L1036.1,433.3L1037.5,430.6L1039.1,428.1L1041.0,425.8L1042.4,424.4L1043.9,423.3L1045.6,422.6L1047.0,422.4L1049.4,422.7L1056.1,424.6L1065.3,426.8L1067.2,427.4L1069.1,428.1L1072.1,429.8L1074.8,432.0L1077.6,434.9L1080.3,438.4L1081.9,440.9L1083.6,444.0L1084.9,446.7L1086.2,449.9L1087.8,454.7L1091.2,465.7L1096.6,482.8L1098.6,488.5L1100.5,493.1L1103.0,498.6L1108.8,509.6L1111.4,515.0L1114.3,521.4L1120.2,535.7L1122.7,541.2L1125.4,546.6L1131.6,558.0L1137.1,568.7L1140.2,575.5L1145.3,587.4L1148.8,595.2L1152.2,602.4L1155.1,607.7L1157.7,611.9L1160.4,615.6L1163.2,619.0L1166.0,621.9L1169.4,624.8L1178.1,631.5L1184.6,637.0L1189.0,641.1L1196.0,648.2L1199.3,651.3L1203.3,654.4L1207.8,657.5L1213.7,661.2L1220.0,664.4L1227.2,667.7L1240.2,673.0L1243.8,674.8L1253.6,679.8L1259.5,682.3L1264.3,684.0L1269.1,685.4L1282.7,688.5L1300.4,693.7L1303.8,694.6L1306.8,695.1L1309.3,695.4L1312.2,695.5L1324.2,694.8L1334.2,694.7L1339.7,694.9L1357.7,696.1L1367.7,696.4L1401.2,697.0L1464.0,697.7" fill="none" stroke="#000" stroke-width="2.85" stroke-linejoin="round" stroke-linecap="butt"/>
<rect x="795.6" y="129.3" width="700.50" height="595.30" fill="none" stroke="#333" stroke-width="2.6"/>
</g>
<g clip-path="url(#csTR)"><rect x="795.6" y="89.00" width="700.50" height="40.3" fill="#D9D9D9" stroke="#333" stroke-width="2.6"/></g>
<rect x="795.6" y="128.00" width="700.40" height="2.6" fill="#333"/>
<text x="1145.85" y="115.80" font-size="18.67" fill="#1A1A1A" text-anchor="middle">MVP−SBP</text>
<line x1="884.50" x2="884.50" y1="724.6" y2="731.90" stroke="#333" stroke-width="2.85"/>
<text x="884.50" y="754.80" font-size="23.47" fill="#4D4D4D" text-anchor="middle">−2</text>
<line x1="1098.50" x2="1098.50" y1="724.6" y2="731.90" stroke="#333" stroke-width="2.85"/>
<text x="1098.50" y="754.80" font-size="23.47" fill="#4D4D4D" text-anchor="middle">0</text>
<line x1="1312.50" x2="1312.50" y1="724.6" y2="731.90" stroke="#333" stroke-width="2.85"/>
<text x="1312.50" y="754.80" font-size="23.47" fill="#4D4D4D" text-anchor="middle">2</text>
<g clip-path="url(#cpBL)">
<rect x="80.9" y="815.3" width="700.10" height="595.30" fill="#fff"/>
<line x1="80.9" x2="781.0" y1="1281.05" y2="1281.05" stroke="#EBEBEB" stroke-width="1.425"/>
<line x1="80.9" x2="781.0" y1="1075.75" y2="1075.75" stroke="#EBEBEB" stroke-width="1.425"/>
<line x1="80.9" x2="781.0" y1="870.45" y2="870.45" stroke="#EBEBEB" stroke-width="1.425"/>
<line x1="146.20" x2="146.20" y1="815.3" y2="1410.6" stroke="#EBEBEB" stroke-width="1.425"/>
<line x1="315.40" x2="315.40" y1="815.3" y2="1410.6" stroke="#EBEBEB" stroke-width="1.425"/>
<line x1="484.60" x2="484.60" y1="815.3" y2="1410.6" stroke="#EBEBEB" stroke-width="1.425"/>
<line x1="653.80" x2="653.80" y1="815.3" y2="1410.6" stroke="#EBEBEB" stroke-width="1.425"/>
<line x1="80.9" x2="781.0" y1="1383.70" y2="1383.70" stroke="#EBEBEB" stroke-width="2.85"/>
<line x1="80.9" x2="781.0" y1="1178.40" y2="1178.40" stroke="#EBEBEB" stroke-width="2.85"/>
<line x1="80.9" x2="781.0" y1="973.10" y2="973.10" stroke="#EBEBEB" stroke-width="2.85"/>
<line x1="230.80" x2="230.80" y1="815.3" y2="1410.6" stroke="#EBEBEB" stroke-width="2.85"/>
<line x1="400.00" x2="400.00" y1="815.3" y2="1410.6" stroke="#EBEBEB" stroke-width="2.85"/>
<line x1="569.20" x2="569.20" y1="815.3" y2="1410.6" stroke="#EBEBEB" stroke-width="2.85"/>
<line x1="738.40" x2="738.40" y1="815.3" y2="1410.6" stroke="#EBEBEB" stroke-width="2.85"/>
<path d="M112.7,1383.7L243.2,1383.7L251.2,1383.2L262.6,1381.9L277.4,1379.5L288.7,1377.3L308.7,1373.0L316.0,1371.2L321.3,1369.6L326.9,1367.4L331.8,1365.1L337.0,1362.0L341.5,1358.9L346.5,1354.7L353.9,1348.0L360.4,1341.7L366.6,1335.2L372.6,1328.5L377.6,1322.3L380.6,1318.3L383.2,1314.6L390.8,1302.9L417.8,1262.6L421.4,1256.6L431.8,1238.3L435.7,1231.9L440.6,1225.0L444.9,1219.5L447.7,1216.6L450.4,1214.4L463.0,1205.4L466.5,1202.6L470.5,1198.8L478.7,1190.1L480.6,1188.5L482.2,1187.4L484.5,1186.4L487.3,1185.6L490.2,1185.3L491.6,1185.4L492.5,1185.6L493.9,1186.1L495.2,1186.7L499.4,1189.4L505.0,1193.6L510.4,1198.0L515.9,1203.1L519.8,1207.0L523.0,1210.8L525.4,1214.0L531.9,1223.5L545.3,1242.2L552.8,1253.4L559.0,1263.7L567.6,1279.0L580.5,1300.4L588.7,1314.7L591.3,1319.0L593.5,1322.3L596.1,1325.9L599.2,1329.9L602.8,1334.1L606.8,1338.5L611.0,1342.8L614.2,1346.0L617.5,1349.0L620.6,1351.5L625.1,1354.7L631.0,1358.5L643.8,1366.2L650.0,1369.6L654.9,1372.0L660.0,1374.2L665.1,1376.0L670.0,1377.3L676.8,1378.9L684.2,1380.2L692.6,1381.3L700.1,1382.0L707.0,1382.5L717.0,1382.9L749.3,1383.7L749.3,1383.7L112.7,1383.7Z" fill="#F8766D" fill-opacity="0.3" stroke="none"/>
<path d="M112.7,1383.7L243.2,1383.7L251.2,1383.2L262.6,1381.9L277.4,1379.5L288.7,1377.3L308.7,1373.0L316.0,1371.2L321.3,1369.6L326.9,1367.4L331.8,1365.1L337.0,1362.0L341.5,1358.9L346.5,1354.7L353.9,1348.0L360.4,1341.7L366.6,1335.2L372.6,1328.5L377.6,1322.3L380.6,1318.3L383.2,1314.6L390.8,1302.9L417.8,1262.6L421.4,1256.6L431.8,1238.3L435.7,1231.9L440.6,1225.0L444.9,1219.5L447.7,1216.6L450.4,1214.4L463.0,1205.4L466.5,1202.6L470.5,1198.8L478.7,1190.1L480.6,1188.5L482.2,1187.4L484.5,1186.4L487.3,1185.6L490.2,1185.3L491.6,1185.4L492.5,1185.6L493.9,1186.1L495.2,1186.7L499.4,1189.4L505.0,1193.6L510.4,1198.0L515.9,1203.1L519.8,1207.0L523.0,1210.8L525.4,1214.0L531.9,1223.5L545.3,1242.2L552.8,1253.4L559.0,1263.7L567.6,1279.0L580.5,1300.4L588.7,1314.7L591.3,1319.0L593.5,1322.3L596.1,1325.9L599.2,1329.9L602.8,1334.1L606.8,1338.5L611.0,1342.8L614.2,1346.0L617.5,1349.0L620.6,1351.5L625.1,1354.7L631.0,1358.5L643.8,1366.2L650.0,1369.6L654.9,1372.0L660.0,1374.2L665.1,1376.0L670.0,1377.3L676.8,1378.9L684.2,1380.2L692.6,1381.3L700.1,1382.0L707.0,1382.5L717.0,1382.9L749.3,1383.7" fill="none" stroke="#000" stroke-width="2.85" stroke-linejoin="round" stroke-linecap="butt"/>
<path d="M112.7,1383.7L211.2,1383.6L237.7,1383.3L243.2,1383.1L248.2,1382.7L257.1,1381.8L265.5,1380.5L272.4,1379.2L279.2,1377.4L284.8,1375.4L287.6,1374.2L289.8,1373.1L293.2,1371.0L294.7,1369.7L296.1,1368.3L297.9,1365.9L299.9,1362.5L301.8,1358.4L303.4,1354.2L307.9,1340.4L312.9,1325.8L315.1,1319.1L318.0,1309.0L320.7,1298.4L323.2,1286.6L328.7,1257.6L331.4,1242.4L333.0,1232.0L337.9,1197.8L339.8,1185.0L341.0,1178.1L344.8,1160.5L349.4,1138.0L355.0,1116.7L357.1,1109.5L362.3,1094.4L365.3,1086.4L367.4,1081.9L369.4,1077.8L371.3,1074.3L373.0,1071.8L374.5,1069.9L376.3,1068.2L378.6,1066.3L381.0,1064.5L392.0,1057.6L393.7,1056.8L395.5,1056.6L396.5,1056.7L397.8,1057.1L399.0,1057.9L400.1,1058.8L401.1,1059.9L402.2,1061.5L404.2,1065.0L405.9,1069.1L407.6,1074.3L412.4,1091.7L420.6,1128.3L423.0,1140.0L435.9,1211.4L437.2,1219.3L439.3,1234.6L440.7,1242.5L442.3,1249.8L446.5,1266.3L451.3,1286.2L453.4,1293.9L456.2,1303.5L458.4,1310.2L460.8,1316.2L463.7,1322.6L467.1,1329.3L470.6,1335.3L476.5,1344.0L479.6,1349.2L483.6,1356.6L487.2,1364.3L488.6,1367.0L489.7,1368.6L491.3,1370.6L494.4,1373.8L497.1,1376.1L499.9,1378.1L502.9,1379.8L505.6,1381.1L508.4,1382.1L510.9,1382.8L513.8,1383.3L517.8,1383.7L749.3,1383.7L749.3,1383.7L112.7,1383.7Z" fill="#7CAE00" fill-opacity="0.3" stroke="none"/>
<path d="M112.7,1383.7L211.2,1383.6L237.7,1383.3L243.2,1383.1L248.2,1382.7L257.1,1381.8L265.5,1380.5L272.4,1379.2L279.2,1377.4L284.8,1375.4L287.6,1374.2L289.8,1373.1L293.2,1371.0L294.7,1369.7L296.1,1368.3L297.9,1365.9L299.9,1362.5L301.8,1358.4L303.4,1354.2L307.9,1340.4L312.9,1325.8L315.1,1319.1L318.0,1309.0L320.7,1298.4L323.2,1286.6L328.7,1257.6L331.4,1242.4L333.0,1232.0L337.9,1197.8L339.8,1185.0L341.0,1178.1L344.8,1160.5L349.4,1138.0L355.0,1116.7L357.1,1109.5L362.3,1094.4L365.3,1086.4L367.4,1081.9L369.4,1077.8L371.3,1074.3L373.0,1071.8L374.5,1069.9L376.3,1068.2L378.6,1066.3L381.0,1064.5L392.0,1057.6L393.7,1056.8L395.5,1056.6L396.5,1056.7L397.8,1057.1L399.0,1057.9L400.1,1058.8L401.1,1059.9L402.2,1061.5L404.2,1065.0L405.9,1069.1L407.6,1074.3L412.4,1091.7L420.6,1128.3L423.0,1140.0L435.9,1211.4L437.2,1219.3L439.3,1234.6L440.7,1242.5L442.3,1249.8L446.5,1266.3L451.3,1286.2L453.4,1293.9L456.2,1303.5L458.4,1310.2L460.8,1316.2L463.7,1322.6L467.1,1329.3L470.6,1335.3L476.5,1344.0L479.6,1349.2L483.6,1356.6L487.2,1364.3L488.6,1367.0L489.7,1368.6L491.3,1370.6L494.4,1373.8L497.1,1376.1L499.9,1378.1L502.9,1379.8L505.6,1381.1L508.4,1382.1L510.9,1382.8L513.8,1383.3L517.8,1383.7L749.3,1383.7" fill="none" stroke="#000" stroke-width="2.85" stroke-linejoin="round" stroke-linecap="butt"/>
<path d="M112.7,1383.7L130.7,1383.0L143.7,1382.4L152.7,1381.8L159.6,1381.2L165.6,1380.4L172.0,1379.3L183.2,1376.9L190.0,1375.2L195.3,1373.6L200.4,1371.7L205.0,1369.7L209.4,1367.4L218.4,1362.0L222.1,1359.5L226.9,1355.8L232.2,1351.2L234.7,1348.8L237.1,1346.3L239.4,1343.6L242.1,1340.0L247.6,1332.3L256.7,1318.5L265.4,1306.9L268.7,1301.9L270.4,1298.8L272.4,1294.8L279.8,1279.0L284.1,1269.4L288.7,1257.8L291.5,1251.9L314.6,1212.1L318.2,1206.1L328.1,1190.5L338.8,1172.4L340.6,1170.0L342.6,1167.8L345.2,1165.5L348.0,1163.4L350.5,1161.9L352.8,1160.8L355.1,1160.2L357.1,1160.1L360.1,1160.3L365.5,1161.3L367.9,1161.9L370.1,1162.9L372.6,1164.4L374.9,1166.4L377.2,1169.0L379.3,1171.8L381.2,1174.8L383.2,1178.2L387.7,1187.1L389.9,1192.2L398.6,1212.9L401.4,1219.3L404.0,1224.7L411.9,1240.4L420.8,1260.5L426.2,1271.8L431.4,1282.0L437.1,1292.5L451.1,1317.4L455.6,1325.2L460.2,1332.3L465.1,1339.3L470.7,1346.3L475.4,1351.5L479.8,1355.5L486.6,1360.7L492.7,1365.0L499.0,1369.0L503.1,1371.0L506.8,1372.4L520.3,1376.1L526.6,1377.6L533.0,1378.8L540.9,1379.8L548.9,1380.6L558.4,1381.3L585.8,1382.7L608.3,1383.2L646.3,1383.5L749.3,1383.7L749.3,1383.7L112.7,1383.7Z" fill="#00BFC4" fill-opacity="0.3" stroke="none"/>
<path d="M112.7,1383.7L130.7,1383.0L143.7,1382.4L152.7,1381.8L159.6,1381.2L165.6,1380.4L172.0,1379.3L183.2,1376.9L190.0,1375.2L195.3,1373.6L200.4,1371.7L205.0,1369.7L209.4,1367.4L218.4,1362.0L222.1,1359.5L226.9,1355.8L232.2,1351.2L234.7,1348.8L237.1,1346.3L239.4,1343.6L242.1,1340.0L247.6,1332.3L256.7,1318.5L265.4,1306.9L268.7,1301.9L270.4,1298.8L272.4,1294.8L279.8,1279.0L284.1,1269.4L288.7,1257.8L291.5,1251.9L314.6,1212.1L318.2,1206.1L328.1,1190.5L338.8,1172.4L340.6,1170.0L342.6,1167.8L345.2,1165.5L348.0,1163.4L350.5,1161.9L352.8,1160.8L355.1,1160.2L357.1,1160.1L360.1,1160.3L365.5,1161.3L367.9,1161.9L370.1,1162.9L372.6,1164.4L374.9,1166.4L377.2,1169.0L379.3,1171.8L381.2,1174.8L383.2,1178.2L387.7,1187.1L389.9,1192.2L398.6,1212.9L401.4,1219.3L404.0,1224.7L411.9,1240.4L420.8,1260.5L426.2,1271.8L431.4,1282.0L437.1,1292.5L451.1,1317.4L455.6,1325.2L460.2,1332.3L465.1,1339.3L470.7,1346.3L475.4,1351.5L479.8,1355.5L486.6,1360.7L492.7,1365.0L499.0,1369.0L503.1,1371.0L506.8,1372.4L520.3,1376.1L526.6,1377.6L533.0,1378.8L540.9,1379.8L548.9,1380.6L558.4,1381.3L585.8,1382.7L608.3,1383.2L646.3,1383.5L749.3,1383.7" fill="none" stroke="#000" stroke-width="2.85" stroke-linejoin="round" stroke-linecap="butt"/>
<path d="M112.7,1383.7L144.2,1382.9L154.2,1382.5L164.2,1381.9L173.6,1381.0L183.6,1379.9L194.0,1378.5L203.3,1377.0L213.2,1375.2L230.3,1371.7L239.1,1369.6L244.8,1367.9L249.0,1366.3L253.5,1364.1L258.6,1360.9L263.4,1357.4L268.1,1353.6L272.8,1349.2L277.3,1344.4L281.4,1339.4L284.4,1335.4L287.2,1331.3L297.9,1313.2L308.9,1293.6L312.1,1287.4L315.2,1281.1L327.6,1253.8L333.8,1238.5L337.2,1229.6L338.0,1227.8L339.0,1226.1L340.2,1224.6L343.1,1222.2L344.1,1221.1L348.2,1215.5L350.2,1213.2L352.0,1211.5L356.2,1208.0L358.8,1205.1L360.6,1202.7L362.5,1199.7L371.5,1184.7L374.4,1180.7L378.1,1176.5L380.9,1173.7L383.1,1171.7L385.0,1170.1L386.7,1169.0L388.9,1167.9L391.2,1167.0L393.1,1166.6L395.1,1166.4L397.0,1166.6L399.4,1167.2L401.6,1168.2L403.7,1169.5L405.7,1171.1L407.5,1172.8L409.4,1175.1L411.7,1178.3L415.2,1183.8L421.4,1195.2L428.9,1208.3L432.1,1213.9L436.8,1221.6L438.8,1225.0L441.4,1230.5L450.2,1251.2L452.4,1255.6L454.7,1259.5L457.8,1264.0L464.4,1272.8L467.6,1277.3L493.1,1315.6L499.7,1325.0L513.7,1344.5L516.4,1348.1L519.1,1351.0L521.7,1353.3L524.6,1355.3L533.4,1360.1L543.6,1366.4L548.8,1369.4L555.0,1372.6L559.6,1374.7L564.3,1376.2L570.6,1377.7L582.4,1380.2L591.7,1381.6L601.2,1382.5L611.7,1382.8L658.2,1383.2L749.3,1383.7L749.3,1383.7L112.7,1383.7Z" fill="#C77CFF" fill-opacity="0.3" stroke="none"/>
<path d="M112.7,1383.7L144.2,1382.9L154.2,1382.5L164.2,1381.9L173.6,1381.0L183.6,1379.9L194.0,1378.5L203.3,1377.0L213.2,1375.2L230.3,1371.7L239.1,1369.6L244.8,1367.9L249.0,1366.3L253.5,1364.1L258.6,1360.9L263.4,1357.4L268.1,1353.6L272.8,1349.2L277.3,1344.4L281.4,1339.4L284.4,1335.4L287.2,1331.3L297.9,1313.2L308.9,1293.6L312.1,1287.4L315.2,1281.1L327.6,1253.8L333.8,1238.5L337.2,1229.6L338.0,1227.8L339.0,1226.1L340.2,1224.6L343.1,1222.2L344.1,1221.1L348.2,1215.5L350.2,1213.2L352.0,1211.5L356.2,1208.0L358.8,1205.1L360.6,1202.7L362.5,1199.7L371.5,1184.7L374.4,1180.7L378.1,1176.5L380.9,1173.7L383.1,1171.7L385.0,1170.1L386.7,1169.0L388.9,1167.9L391.2,1167.0L393.1,1166.6L395.1,1166.4L397.0,1166.6L399.4,1167.2L401.6,1168.2L403.7,1169.5L405.7,1171.1L407.5,1172.8L409.4,1175.1L411.7,1178.3L415.2,1183.8L421.4,1195.2L428.9,1208.3L432.1,1213.9L436.8,1221.6L438.8,1225.0L441.4,1230.5L450.2,1251.2L452.4,1255.6L454.7,1259.5L457.8,1264.0L464.4,1272.8L467.6,1277.3L493.1,1315.6L499.7,1325.0L513.7,1344.5L516.4,1348.1L519.1,1351.0L521.7,1353.3L524.6,1355.3L533.4,1360.1L543.6,1366.4L548.8,1369.4L555.0,1372.6L559.6,1374.7L564.3,1376.2L570.6,1377.7L582.4,1380.2L591.7,1381.6L601.2,1382.5L611.7,1382.8L658.2,1383.2L749.3,1383.7" fill="none" stroke="#000" stroke-width="2.85" stroke-linejoin="round" stroke-linecap="butt"/>
<rect x="80.9" y="815.3" width="700.10" height="595.30" fill="none" stroke="#333" stroke-width="2.6"/>
</g>
<g clip-path="url(#csBL)"><rect x="80.9" y="775.00" width="700.10" height="40.3" fill="#D9D9D9" stroke="#333" stroke-width="2.6"/></g>
<rect x="80.9" y="814.00" width="700.10" height="2.6" fill="#333"/>
<text x="430.95" y="801.80" font-size="18.67" fill="#1A1A1A" text-anchor="middle">Pan UKBB−HTN</text>
<line x1="230.80" x2="230.80" y1="1410.6" y2="1417.90" stroke="#333" stroke-width="2.85"/>
<text x="230.80" y="1440.80" font-size="23.47" fill="#4D4D4D" text-anchor="middle">−2</text>
<line x1="400.00" x2="400.00" y1="1410.6" y2="1417.90" stroke="#333" stroke-width="2.85"/>
<text x="400.00" y="1440.80" font-size="23.47" fill="#4D4D4D" text-anchor="middle">0</text>
<line x1="569.20" x2="569.20" y1="1410.6" y2="1417.90" stroke="#333" stroke-width="2.85"/>
<text x="569.20" y="1440.80" font-size="23.47" fill="#4D4D4D" text-anchor="middle">2</text>
<line x1="738.40" x2="738.40" y1="1410.6" y2="1417.90" stroke="#333" stroke-width="2.85"/>
<text x="738.40" y="1440.80" font-size="23.47" fill="#4D4D4D" text-anchor="middle">4</text>
<line x1="73.50" x2="80.9" y1="1383.70" y2="1383.70" stroke="#333" stroke-width="2.85"/>
<text x="67.2" y="1392.10" font-size="23.47" fill="#4D4D4D" text-anchor="end">0.0</text>
<line x1="73.50" x2="80.9" y1="1178.40" y2="1178.40" stroke="#333" stroke-width="2.85"/>
<text x="67.2" y="1186.80" font-size="23.47" fill="#4D4D4D" text-anchor="end">0.5</text>
<line x1="73.50" x2="80.9" y1="973.10" y2="973.10" stroke="#333" stroke-width="2.85"/>
<text x="67.2" y="981.50" font-size="23.47" fill="#4D4D4D" text-anchor="end">1.0</text>
<g clip-path="url(#cpBR)">
<rect x="795.6" y="815.3" width="700.50" height="595.30" fill="#fff"/>
<line x1="795.6" x2="1496.1" y1="1281.05" y2="1281.05" stroke="#EBEBEB" stroke-width="1.425"/>
<line x1="795.6" x2="1496.1" y1="1075.75" y2="1075.75" stroke="#EBEBEB" stroke-width="1.425"/>
<line x1="795.6" x2="1496.1" y1="870.45" y2="870.45" stroke="#EBEBEB" stroke-width="1.425"/>
<line x1="995.70" x2="995.70" y1="815.3" y2="1410.6" stroke="#EBEBEB" stroke-width="1.425"/>
<line x1="1210.50" x2="1210.50" y1="815.3" y2="1410.6" stroke="#EBEBEB" stroke-width="1.425"/>
<line x1="1425.30" x2="1425.30" y1="815.3" y2="1410.6" stroke="#EBEBEB" stroke-width="1.425"/>
<line x1="795.6" x2="1496.1" y1="1383.70" y2="1383.70" stroke="#EBEBEB" stroke-width="2.85"/>
<line x1="795.6" x2="1496.1" y1="1178.40" y2="1178.40" stroke="#EBEBEB" stroke-width="2.85"/>
<line x1="795.6" x2="1496.1" y1="973.10" y2="973.10" stroke="#EBEBEB" stroke-width="2.85"/>
<line x1="888.30" x2="888.30" y1="815.3" y2="1410.6" stroke="#EBEBEB" stroke-width="2.85"/>
<line x1="1103.10" x2="1103.10" y1="815.3" y2="1410.6" stroke="#EBEBEB" stroke-width="2.85"/>
<line x1="1317.90" x2="1317.90" y1="815.3" y2="1410.6" stroke="#EBEBEB" stroke-width="2.85"/>
<path d="M827.5,1383.7L970.0,1383.7L996.0,1383.2L1004.5,1382.8L1013.0,1382.1L1023.9,1380.9L1035.2,1379.1L1048.0,1376.6L1053.8,1375.2L1058.2,1374.1L1061.5,1373.0L1064.8,1371.8L1077.3,1366.6L1086.3,1362.4L1092.5,1359.1L1095.0,1357.4L1097.8,1355.4L1104.4,1350.0L1121.0,1334.8L1127.5,1328.6L1133.3,1322.4L1139.5,1315.2L1146.6,1306.2L1152.0,1298.9L1154.7,1294.7L1157.1,1290.9L1159.0,1287.4L1160.7,1283.8L1163.4,1276.8L1169.8,1257.9L1173.7,1247.6L1176.8,1239.7L1179.6,1233.3L1182.4,1227.4L1185.7,1221.2L1189.1,1215.1L1192.6,1209.6L1199.2,1200.2L1206.2,1189.2L1234.5,1146.8L1241.4,1135.8L1243.7,1132.5L1245.5,1130.2L1248.1,1127.1L1250.2,1124.9L1252.0,1123.2L1253.6,1122.1L1254.8,1121.4L1256.2,1120.9L1257.6,1120.8L1259.5,1121.0L1261.3,1121.6L1263.5,1122.7L1265.6,1124.1L1268.3,1126.2L1274.6,1132.0L1281.8,1138.1L1284.7,1140.9L1287.2,1144.0L1289.8,1147.7L1292.3,1152.0L1294.4,1156.0L1296.5,1160.5L1301.2,1172.6L1304.3,1181.6L1313.8,1211.1L1315.7,1216.3L1317.6,1220.9L1319.6,1225.0L1330.3,1245.9L1334.3,1253.9L1337.5,1261.2L1349.0,1288.4L1352.8,1296.6L1357.3,1305.5L1363.6,1317.4L1369.6,1327.8L1376.5,1338.8L1379.1,1342.5L1381.8,1346.2L1385.6,1350.8L1390.0,1355.6L1396.3,1362.0L1401.8,1367.1L1405.2,1370.1L1408.4,1372.4L1411.7,1374.6L1415.3,1376.5L1418.5,1377.8L1422.3,1379.0L1426.7,1379.9L1432.6,1380.9L1442.5,1382.1L1464.0,1383.7L1464.0,1383.7L827.5,1383.7Z" fill="#F8766D" fill-opacity="0.3" stroke="none"/>
<path d="M827.5,1383.7L970.0,1383.7L996.0,1383.2L1004.5,1382.8L1013.0,1382.1L1023.9,1380.9L1035.2,1379.1L1048.0,1376.6L1053.8,1375.2L1058.2,1374.1L1061.5,1373.0L1064.8,1371.8L1077.3,1366.6L1086.3,1362.4L1092.5,1359.1L1095.0,1357.4L1097.8,1355.4L1104.4,1350.0L1121.0,1334.8L1127.5,1328.6L1133.3,1322.4L1139.5,1315.2L1146.6,1306.2L1152.0,1298.9L1154.7,1294.7L1157.1,1290.9L1159.0,1287.4L1160.7,1283.8L1163.4,1276.8L1169.8,1257.9L1173.7,1247.6L1176.8,1239.7L1179.6,1233.3L1182.4,1227.4L1185.7,1221.2L1189.1,1215.1L1192.6,1209.6L1199.2,1200.2L1206.2,1189.2L1234.5,1146.8L1241.4,1135.8L1243.7,1132.5L1245.5,1130.2L1248.1,1127.1L1250.2,1124.9L1252.0,1123.2L1253.6,1122.1L1254.8,1121.4L1256.2,1120.9L1257.6,1120.8L1259.5,1121.0L1261.3,1121.6L1263.5,1122.7L1265.6,1124.1L1268.3,1126.2L1274.6,1132.0L1281.8,1138.1L1284.7,1140.9L1287.2,1144.0L1289.8,1147.7L1292.3,1152.0L1294.4,1156.0L1296.5,1160.5L1301.2,1172.6L1304.3,1181.6L1313.8,1211.1L1315.7,1216.3L1317.6,1220.9L1319.6,1225.0L1330.3,1245.9L1334.3,1253.9L1337.5,1261.2L1349.0,1288.4L1352.8,1296.6L1357.3,1305.5L1363.6,1317.4L1369.6,1327.8L1376.5,1338.8L1379.1,1342.5L1381.8,1346.2L1385.6,1350.8L1390.0,1355.6L1396.3,1362.0L1401.8,1367.1L1405.2,1370.1L1408.4,1372.4L1411.7,1374.6L1415.3,1376.5L1418.5,1377.8L1422.3,1379.0L1426.7,1379.9L1432.6,1380.9L1442.5,1382.1L1464.0,1383.7" fill="none" stroke="#000" stroke-width="2.85" stroke-linejoin="round" stroke-linecap="butt"/>
<path d="M827.5,1383.7L973.4,1383.7L978.3,1382.7L982.6,1381.4L994.2,1376.6L996.9,1375.4L999.5,1373.9L1001.1,1372.8L1003.1,1371.2L1006.2,1368.0L1009.2,1364.1L1011.8,1359.8L1014.2,1354.8L1016.1,1349.2L1017.6,1343.4L1021.1,1328.3L1024.6,1311.1L1028.3,1291.4L1032.7,1266.3L1035.2,1253.6L1037.9,1241.4L1041.2,1227.2L1047.0,1204.0L1049.4,1193.8L1053.4,1175.2L1055.9,1161.9L1056.7,1156.5L1057.3,1151.0L1059.8,1122.6L1061.2,1109.7L1062.6,1091.7L1064.9,1067.9L1067.4,1037.5L1073.0,983.2L1074.5,971.3L1076.0,962.0L1077.8,953.1L1080.1,943.4L1082.2,935.2L1087.6,916.5L1088.7,912.1L1090.6,902.8L1091.7,898.9L1092.9,895.7L1093.8,893.9L1094.6,892.7L1095.5,891.7L1096.2,891.1L1096.9,890.8L1097.6,890.7L1098.4,890.8L1099.1,891.1L1099.7,891.7L1100.6,892.7L1102.0,895.3L1103.2,899.1L1104.3,904.5L1106.9,921.3L1110.5,938.4L1113.6,952.0L1116.3,962.7L1117.8,968.0L1121.0,978.5L1122.5,983.8L1124.1,991.6L1125.9,1002.0L1128.0,1015.3L1130.2,1031.7L1135.6,1073.3L1140.4,1108.5L1143.6,1134.8L1145.6,1152.2L1146.9,1165.6L1147.5,1174.1L1148.6,1193.1L1149.5,1202.5L1150.4,1208.5L1153.2,1226.3L1156.3,1251.6L1158.9,1270.4L1160.6,1282.3L1162.0,1290.1L1164.3,1301.4L1167.3,1314.1L1169.8,1322.7L1172.3,1330.3L1175.2,1337.2L1178.5,1343.9L1182.6,1350.8L1186.8,1357.0L1190.2,1361.3L1194.5,1366.2L1200.1,1372.0L1207.2,1379.0L1208.7,1380.2L1210.3,1381.2L1212.2,1381.8L1214.6,1382.2L1228.6,1383.2L1243.6,1383.7L1464.0,1383.7L1464.0,1383.7L827.5,1383.7Z" fill="#7CAE00" fill-opacity="0.3" stroke="none"/>
<path d="M827.5,1383.7L973.4,1383.7L978.3,1382.7L982.6,1381.4L994.2,1376.6L996.9,1375.4L999.5,1373.9L1001.1,1372.8L1003.1,1371.2L1006.2,1368.0L1009.2,1364.1L1011.8,1359.8L1014.2,1354.8L1016.1,1349.2L1017.6,1343.4L1021.1,1328.3L1024.6,1311.1L1028.3,1291.4L1032.7,1266.3L1035.2,1253.6L1037.9,1241.4L1041.2,1227.2L1047.0,1204.0L1049.4,1193.8L1053.4,1175.2L1055.9,1161.9L1056.7,1156.5L1057.3,1151.0L1059.8,1122.6L1061.2,1109.7L1062.6,1091.7L1064.9,1067.9L1067.4,1037.5L1073.0,983.2L1074.5,971.3L1076.0,962.0L1077.8,953.1L1080.1,943.4L1082.2,935.2L1087.6,916.5L1088.7,912.1L1090.6,902.8L1091.7,898.9L1092.9,895.7L1093.8,893.9L1094.6,892.7L1095.5,891.7L1096.2,891.1L1096.9,890.8L1097.6,890.7L1098.4,890.8L1099.1,891.1L1099.7,891.7L1100.6,892.7L1102.0,895.3L1103.2,899.1L1104.3,904.5L1106.9,921.3L1110.5,938.4L1113.6,952.0L1116.3,962.7L1117.8,968.0L1121.0,978.5L1122.5,983.8L1124.1,991.6L1125.9,1002.0L1128.0,1015.3L1130.2,1031.7L1135.6,1073.3L1140.4,1108.5L1143.6,1134.8L1145.6,1152.2L1146.9,1165.6L1147.5,1174.1L1148.6,1193.1L1149.5,1202.5L1150.4,1208.5L1153.2,1226.3L1156.3,1251.6L1158.9,1270.4L1160.6,1282.3L1162.0,1290.1L1164.3,1301.4L1167.3,1314.1L1169.8,1322.7L1172.3,1330.3L1175.2,1337.2L1178.5,1343.9L1182.6,1350.8L1186.8,1357.0L1190.2,1361.3L1194.5,1366.2L1200.1,1372.0L1207.2,1379.0L1208.7,1380.2L1210.3,1381.2L1212.2,1381.8L1214.6,1382.2L1228.6,1383.2L1243.6,1383.7L1464.0,1383.7" fill="none" stroke="#000" stroke-width="2.85" stroke-linejoin="round" stroke-linecap="butt"/>
<path d="M827.5,1383.7L849.0,1383.3L858.0,1383.0L871.5,1382.1L878.9,1381.3L882.8,1380.6L886.2,1379.7L889.0,1378.6L895.4,1375.7L904.8,1372.5L908.9,1370.5L912.7,1368.2L915.8,1365.7L918.6,1362.9L921.2,1359.8L924.1,1355.8L930.7,1345.8L934.4,1339.8L937.8,1333.7L940.6,1327.3L943.7,1319.4L947.3,1309.0L951.3,1296.6L959.7,1268.3L969.7,1238.5L972.5,1228.9L975.6,1217.8L979.6,1202.8L982.8,1189.7L985.6,1177.0L990.5,1153.5L995.1,1130.0L999.0,1105.3L1000.5,1097.4L1001.9,1091.6L1011.2,1057.3L1013.3,1050.1L1014.8,1045.9L1016.2,1042.7L1017.7,1040.1L1019.6,1037.8L1021.4,1036.1L1025.2,1032.9L1030.4,1029.0L1032.1,1027.9L1033.4,1027.3L1034.7,1027.0L1035.6,1026.9L1037.4,1027.3L1039.1,1028.2L1040.9,1029.8L1042.4,1031.8L1049.2,1042.9L1054.8,1051.1L1056.6,1054.1L1058.1,1056.7L1059.3,1059.4L1060.4,1062.2L1061.5,1065.5L1064.3,1075.7L1069.1,1096.1L1072.7,1110.7L1073.7,1115.6L1075.4,1125.4L1076.7,1131.8L1084.1,1165.5L1090.6,1196.8L1094.5,1213.4L1098.0,1226.9L1101.2,1238.5L1105.2,1252.4L1112.0,1274.9L1117.6,1295.1L1121.0,1306.1L1124.6,1317.1L1127.8,1325.5L1131.4,1333.7L1135.4,1341.8L1140.1,1350.1L1144.3,1356.9L1147.8,1361.7L1152.1,1366.6L1156.1,1370.4L1158.0,1371.9L1160.1,1373.3L1161.9,1374.2L1164.1,1375.2L1168.4,1376.5L1180.1,1379.2L1187.5,1380.6L1193.9,1381.6L1198.9,1382.1L1208.4,1382.7L1217.8,1383.7L1464.0,1383.7L1464.0,1383.7L827.5,1383.7Z" fill="#00BFC4" fill-opacity="0.3" stroke="none"/>
<path d="M827.5,1383.7L849.0,1383.3L858.0,1383.0L871.5,1382.1L878.9,1381.3L882.8,1380.6L886.2,1379.7L889.0,1378.6L895.4,1375.7L904.8,1372.5L908.9,1370.5L912.7,1368.2L915.8,1365.7L918.6,1362.9L921.2,1359.8L924.1,1355.8L930.7,1345.8L934.4,1339.8L937.8,1333.7L940.6,1327.3L943.7,1319.4L947.3,1309.0L951.3,1296.6L959.7,1268.3L969.7,1238.5L972.5,1228.9L975.6,1217.8L979.6,1202.8L982.8,1189.7L985.6,1177.0L990.5,1153.5L995.1,1130.0L999.0,1105.3L1000.5,1097.4L1001.9,1091.6L1011.2,1057.3L1013.3,1050.1L1014.8,1045.9L1016.2,1042.7L1017.7,1040.1L1019.6,1037.8L1021.4,1036.1L1025.2,1032.9L1030.4,1029.0L1032.1,1027.9L1033.4,1027.3L1034.7,1027.0L1035.6,1026.9L1037.4,1027.3L1039.1,1028.2L1040.9,1029.8L1042.4,1031.8L1049.2,1042.9L1054.8,1051.1L1056.6,1054.1L1058.1,1056.7L1059.3,1059.4L1060.4,1062.2L1061.5,1065.5L1064.3,1075.7L1069.1,1096.1L1072.7,1110.7L1073.7,1115.6L1075.4,1125.4L1076.7,1131.8L1084.1,1165.5L1090.6,1196.8L1094.5,1213.4L1098.0,1226.9L1101.2,1238.5L1105.2,1252.4L1112.0,1274.9L1117.6,1295.1L1121.0,1306.1L1124.6,1317.1L1127.8,1325.5L1131.4,1333.7L1135.4,1341.8L1140.1,1350.1L1144.3,1356.9L1147.8,1361.7L1152.1,1366.6L1156.1,1370.4L1158.0,1371.9L1160.1,1373.3L1161.9,1374.2L1164.1,1375.2L1168.4,1376.5L1180.1,1379.2L1187.5,1380.6L1193.9,1381.6L1198.9,1382.1L1208.4,1382.7L1217.8,1383.7L1464.0,1383.7" fill="none" stroke="#000" stroke-width="2.85" stroke-linejoin="round" stroke-linecap="butt"/>
<path d="M827.5,1383.7L861.5,1383.5L875.0,1383.1L882.0,1382.6L889.4,1381.8L894.9,1381.0L899.7,1379.9L905.5,1378.2L911.6,1375.9L930.3,1367.5L934.3,1365.5L937.7,1363.4L941.2,1360.6L944.9,1357.2L949.0,1352.9L953.2,1347.9L956.5,1343.5L960.0,1338.0L963.8,1331.6L966.9,1325.9L970.4,1318.7L975.3,1308.2L979.3,1299.1L983.3,1289.4L986.6,1281.0L1004.2,1234.2L1007.8,1223.8L1015.5,1200.6L1022.5,1180.8L1026.4,1171.0L1030.3,1162.4L1034.8,1153.4L1041.5,1141.1L1044.8,1135.5L1047.5,1131.4L1052.1,1125.4L1054.1,1123.2L1055.5,1121.8L1057.1,1120.7L1058.4,1120.0L1059.7,1119.6L1061.2,1119.5L1062.6,1119.7L1064.4,1120.2L1065.7,1120.9L1067.4,1122.0L1069.6,1123.9L1073.7,1128.3L1076.2,1130.7L1079.6,1133.7L1082.4,1135.8L1085.9,1137.8L1093.7,1140.9L1097.7,1142.9L1099.8,1144.3L1101.3,1145.6L1102.7,1147.0L1103.9,1148.6L1105.2,1150.7L1106.6,1153.3L1110.7,1161.9L1113.1,1168.0L1119.3,1184.3L1122.7,1193.7L1125.2,1201.3L1130.4,1219.1L1132.2,1224.8L1135.0,1232.8L1137.9,1240.3L1140.6,1246.8L1143.3,1252.6L1146.6,1258.8L1150.6,1265.8L1156.1,1274.7L1162.2,1283.8L1167.5,1291.1L1172.6,1297.3L1188.2,1314.8L1193.7,1320.6L1213.8,1340.2L1216.8,1342.8L1219.6,1344.8L1230.4,1351.2L1238.9,1357.3L1241.8,1359.2L1245.8,1361.4L1249.9,1363.2L1253.6,1364.5L1257.5,1365.7L1266.8,1367.5L1270.2,1368.3L1280.1,1371.7L1284.4,1373.0L1290.8,1374.4L1297.6,1375.7L1318.4,1378.6L1326.4,1379.5L1361.8,1382.2L1370.8,1382.8L1382.3,1383.2L1397.8,1383.4L1464.0,1383.7L1464.0,1383.7L827.5,1383.7Z" fill="#C77CFF" fill-opacity="0.3" stroke="none"/>
<path d="M827.5,1383.7L861.5,1383.5L875.0,1383.1L882.0,1382.6L889.4,1381.8L894.9,1381.0L899.7,1379.9L905.5,1378.2L911.6,1375.9L930.3,1367.5L934.3,1365.5L937.7,1363.4L941.2,1360.6L944.9,1357.2L949.0,1352.9L953.2,1347.9L956.5,1343.5L960.0,1338.0L963.8,1331.6L966.9,1325.9L970.4,1318.7L975.3,1308.2L979.3,1299.1L983.3,1289.4L986.6,1281.0L1004.2,1234.2L1007.8,1223.8L1015.5,1200.6L1022.5,1180.8L1026.4,1171.0L1030.3,1162.4L1034.8,1153.4L1041.5,1141.1L1044.8,1135.5L1047.5,1131.4L1052.1,1125.4L1054.1,1123.2L1055.5,1121.8L1057.1,1120.7L1058.4,1120.0L1059.7,1119.6L1061.2,1119.5L1062.6,1119.7L1064.4,1120.2L1065.7,1120.9L1067.4,1122.0L1069.6,1123.9L1073.7,1128.3L1076.2,1130.7L1079.6,1133.7L1082.4,1135.8L1085.9,1137.8L1093.7,1140.9L1097.7,1142.9L1099.8,1144.3L1101.3,1145.6L1102.7,1147.0L1103.9,1148.6L1105.2,1150.7L1106.6,1153.3L1110.7,1161.9L1113.1,1168.0L1119.3,1184.3L1122.7,1193.7L1125.2,1201.3L1130.4,1219.1L1132.2,1224.8L1135.0,1232.8L1137.9,1240.3L1140.6,1246.8L1143.3,1252.6L1146.6,1258.8L1150.6,1265.8L1156.1,1274.7L1162.2,1283.8L1167.5,1291.1L1172.6,1297.3L1188.2,1314.8L1193.7,1320.6L1213.8,1340.2L1216.8,1342.8L1219.6,1344.8L1230.4,1351.2L1238.9,1357.3L1241.8,1359.2L1245.8,1361.4L1249.9,1363.2L1253.6,1364.5L1257.5,1365.7L1266.8,1367.5L1270.2,1368.3L1280.1,1371.7L1284.4,1373.0L1290.8,1374.4L1297.6,1375.7L1318.4,1378.6L1326.4,1379.5L1361.8,1382.2L1370.8,1382.8L1382.3,1383.2L1397.8,1383.4L1464.0,1383.7" fill="none" stroke="#000" stroke-width="2.85" stroke-linejoin="round" stroke-linecap="butt"/>
<rect x="795.6" y="815.3" width="700.50" height="595.30" fill="none" stroke="#333" stroke-width="2.6"/>
</g>
<g clip-path="url(#csBR)"><rect x="795.6" y="775.00" width="700.50" height="40.3" fill="#D9D9D9" stroke="#333" stroke-width="2.6"/></g>
<rect x="795.6" y="814.00" width="700.40" height="2.6" fill="#333"/>
<text x="1145.85" y="801.80" font-size="18.67" fill="#1A1A1A" text-anchor="middle">PRSsum</text>
<line x1="888.30" x2="888.30" y1="1410.6" y2="1417.90" stroke="#333" stroke-width="2.85"/>
<text x="888.30" y="1440.80" font-size="23.47" fill="#4D4D4D" text-anchor="middle">−2</text>
<line x1="1103.10" x2="1103.10" y1="1410.6" y2="1417.90" stroke="#333" stroke-width="2.85"/>
<text x="1103.10" y="1440.80" font-size="23.47" fill="#4D4D4D" text-anchor="middle">0</text>
<line x1="1317.90" x2="1317.90" y1="1410.6" y2="1417.90" stroke="#333" stroke-width="2.85"/>
<text x="1317.90" y="1440.80" font-size="23.47" fill="#4D4D4D" text-anchor="middle">2</text>
<text x="788.5" y="1474.2" font-size="29.33" fill="#000" text-anchor="middle">PRS</text>
<text transform="translate(21.1,769.6) rotate(-90)" x="0" y="0" font-size="29.33" fill="#000" text-anchor="middle">density</text>
</svg></body></html>
